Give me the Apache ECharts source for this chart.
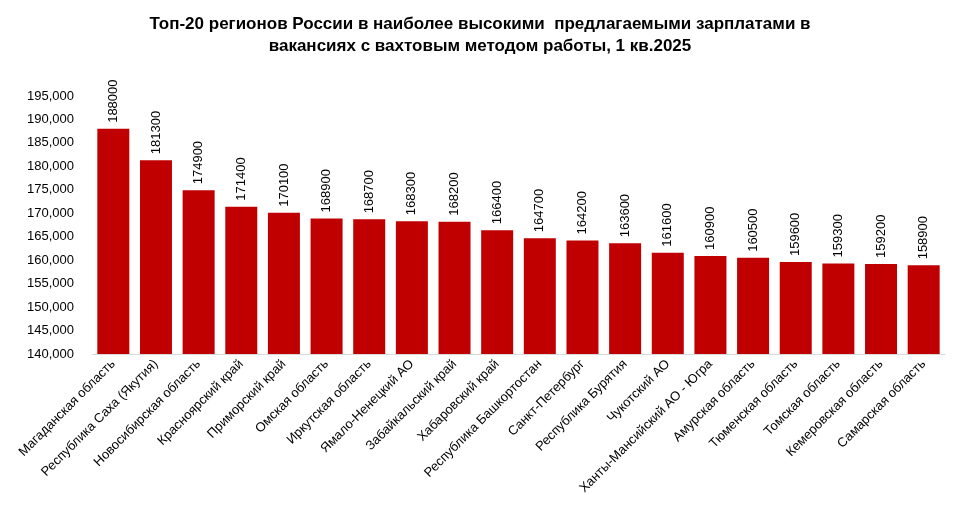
<!DOCTYPE html>
<html><head><meta charset="utf-8">
<script src="https://cdn.jsdelivr.net/npm/echarts@6/dist/echarts.min.js"></script>
<style>html,body{margin:0;padding:0;background:#fff}#c{width:960px;height:531px}</style>
</head><body><div id="c"></div>
<script>
const categories = ["Магаданская область","Республика Саха (Якутия)","Новосибирская область","Красноярский край","Приморский край","Омская область","Иркутская область","Ямало-Ненецкий АО","Забайкальский край","Хабаровский край","Республика Башкортостан","Санкт-Петербург","Республика Бурятия","Чукотский АО","Ханты-Мансийский АО - Югра","Амурская область","Тюменская область","Томская область","Кемеровская область","Самарская область"];
const values = [188000,181300,174900,171400,170100,168900,168700,168300,168200,166400,164700,164200,163600,161600,160900,160500,159600,159300,159200,158900];
const chart = echarts.init(document.getElementById('c'));
chart.setOption({
  animation:false,
  textStyle:{fontFamily:'Liberation Sans, Arial, sans-serif'},
  title:{text:'Топ-20 регионов России в наиболее высокими  предлагаемыми зарплатами в\nвакансиях с вахтовым методом работы, 1 кв.2025',left:'center',top:8,
    textStyle:{fontSize:17,fontWeight:'bold',color:'#000',lineHeight:22,fontFamily:'Liberation Sans, Arial, sans-serif'}},
  grid:{left:92,right:15,top:96,bottom:177},
  xAxis:{type:'category',data:categories,axisTick:{show:false},
    axisLine:{lineStyle:{color:'#d9d9d9'}},
    axisLabel:{rotate:45,interval:0,color:'#000',fontSize:13,margin:8}},
  yAxis:{type:'value',min:140000,max:195000,interval:5000,splitLine:{show:false},
    axisLine:{show:false},axisTick:{show:false},
    axisLabel:{color:'#000',fontSize:13,margin:18}},
  series:[{type:'bar',data:values,barCategoryGap:'25%',itemStyle:{color:'#c00000'},
    label:{show:true,position:'top',rotate:90,align:'left',verticalAlign:'middle',distance:6,color:'#000',fontSize:13}}]
});
</script></body></html>
